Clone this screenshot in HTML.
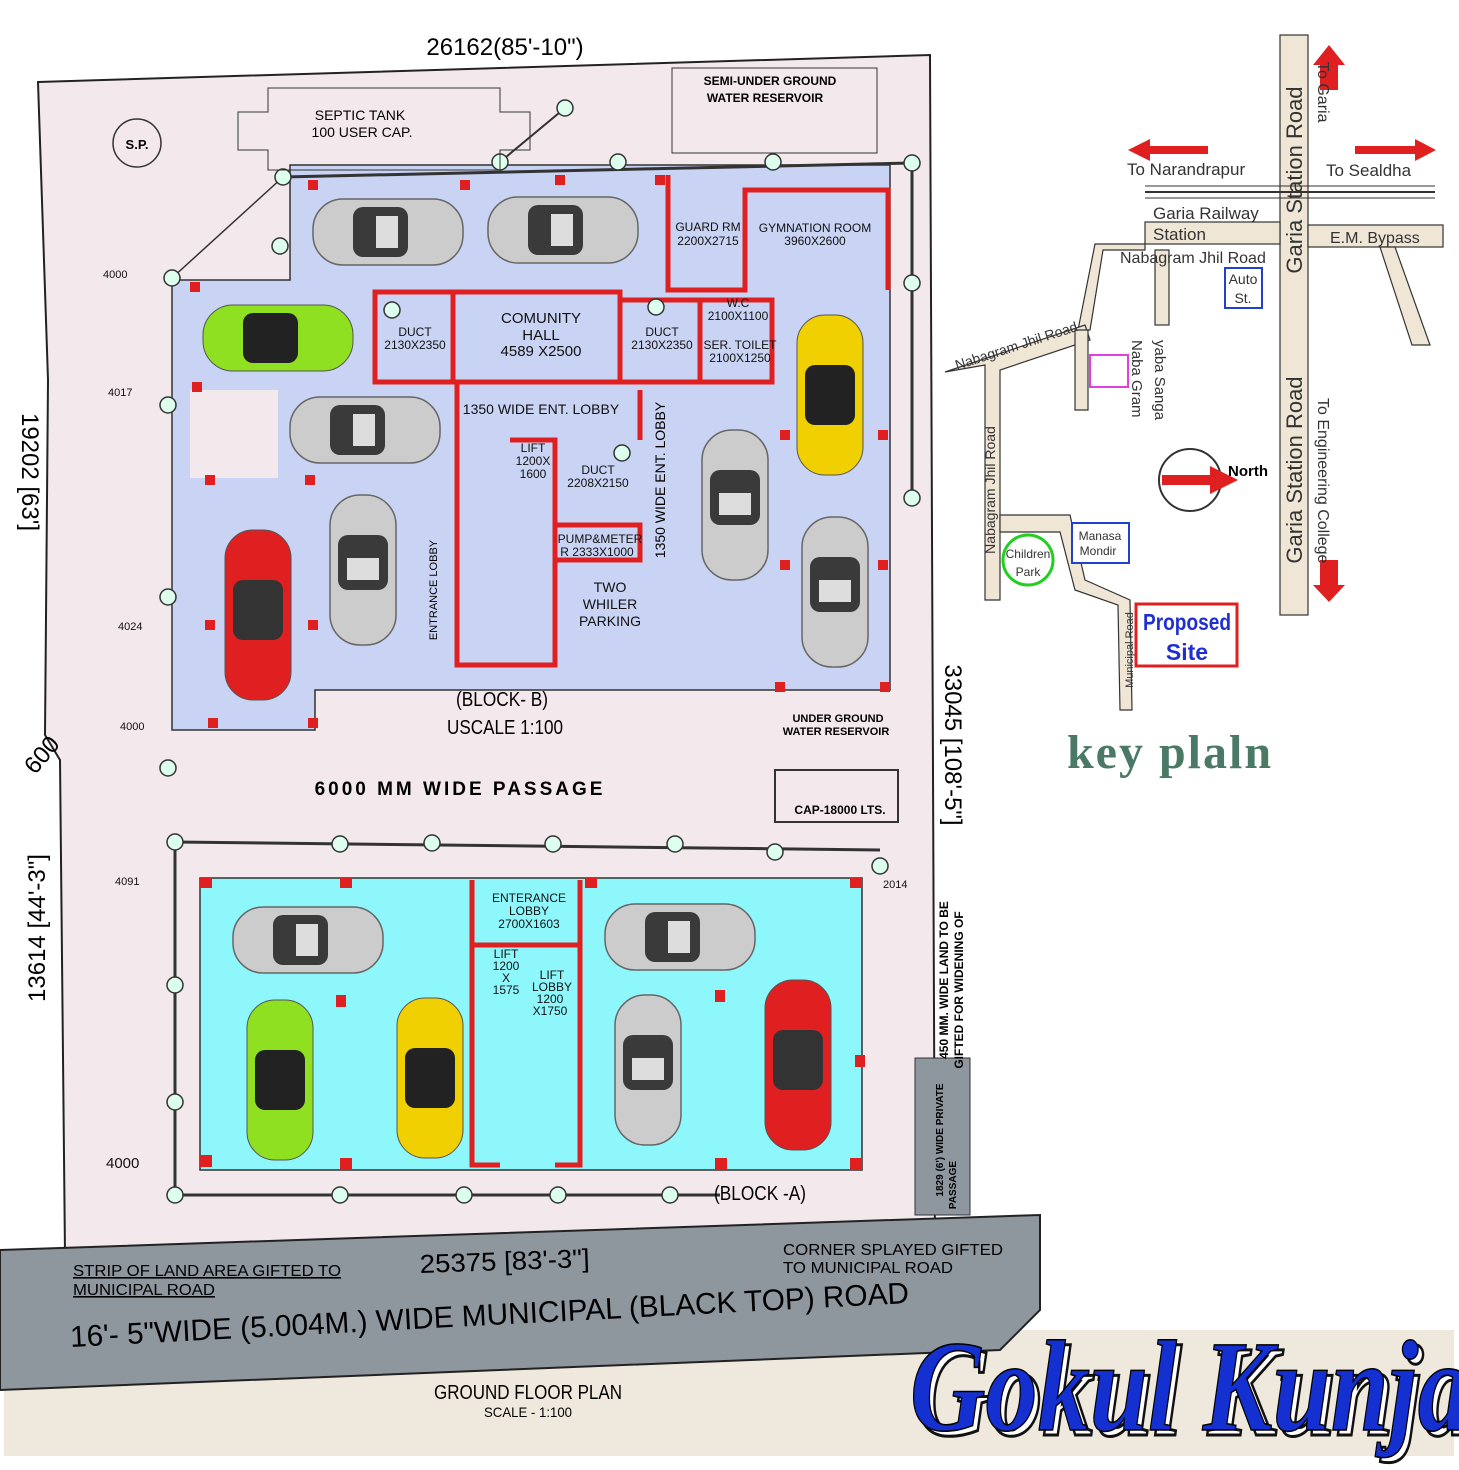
<!DOCTYPE html>
<html><head><meta charset="utf-8"><style>
body{margin:0;background:#fff;}
svg{display:block;font-family:"Liberation Sans",sans-serif;}
</style></head><body>
<svg width="1459" height="1470" viewBox="0 0 1459 1470" xmlns="http://www.w3.org/2000/svg">
<defs>
<g id="car"><rect x="-75" y="-33" width="150" height="66" rx="30" fill="#ccc" stroke="#666" stroke-width="1.5"/><rect x="-35" y="-25" width="55" height="50" rx="10" fill="#3a3a3a"/><rect x="-12" y="-16" width="22" height="32" fill="#ddd"/></g>
<g id="carv"><rect x="-33" y="-75" width="66" height="150" rx="30" fill="#ccc" stroke="#666" stroke-width="1.5"/><rect x="-25" y="-35" width="50" height="55" rx="10" fill="#3a3a3a"/><rect x="-16" y="-12" width="32" height="22" fill="#ddd"/></g>
</defs>
<rect width="1459" height="1470" fill="#fff"/>
<rect x="4" y="1330" width="1450" height="126" fill="#efe8dc"/>
<polygon points="38,82 930,55 935,1250 65,1255 60,760 45,735 48,380" fill="#f3e8ec" stroke="#222" stroke-width="2"/>
<polygon points="290,165 890,165 890,690 775,690 775,690 315,690 315,730 172,730 172,280 290,280" fill="#c9d3f3" stroke="#333" stroke-width="1.5"/>
<rect x="190" y="390" width="88" height="88" fill="#f3e8ec"/>
<rect x="200" y="878" width="662" height="292" fill="#8ef7fb" stroke="#333" stroke-width="1.5"/>
<polygon points="0,1250 1040,1215 1040,1310 1000,1350 0,1390" fill="#8e969e" stroke="#222" stroke-width="2"/>
<polygon points="915,1058 970,1058 970,1215 915,1215" fill="#8e969e" stroke="#333"/>
<g stroke="#e02020" stroke-width="5" fill="none">
<rect x="375" y="292" width="78" height="90"/>
<polyline points="453,292 620,292 620,382 375,382"/>
<polyline points="620,300 700,300 700,382 620,382"/>
<polyline points="668,175 668,290 745,290 745,190 888,190 888,290"/>
<polyline points="700,300 772,300 772,382 700,382"/>
<polyline points="457,382 457,665 555,665 555,440 510,440"/>
<polyline points="555,525 640,525 640,560 555,560"/>
<line x1="640" y1="440" x2="640" y2="390"/>
<polyline points="472,880 472,1165 500,1165"/>
<polyline points="580,880 580,1165 555,1165"/>
<line x1="472" y1="945" x2="580" y2="945"/>
</g>
<g fill="#e02020">
<rect x="308" y="180" width="10" height="10"/><rect x="460" y="180" width="10" height="10"/><rect x="555" y="175" width="10" height="10"/><rect x="655" y="175" width="10" height="10"/>
<rect x="190" y="282" width="10" height="10"/><rect x="192" y="382" width="10" height="10"/><rect x="205" y="475" width="10" height="10"/><rect x="305" y="475" width="10" height="10"/>
<rect x="205" y="620" width="10" height="10"/><rect x="308" y="620" width="10" height="10"/><rect x="208" y="718" width="10" height="10"/><rect x="308" y="718" width="10" height="10"/>
<rect x="780" y="430" width="10" height="10"/><rect x="878" y="430" width="10" height="10"/><rect x="780" y="560" width="10" height="10"/><rect x="878" y="560" width="10" height="10"/><rect x="775" y="682" width="10" height="10"/><rect x="880" y="682" width="10" height="10"/>
<rect x="200" y="878" width="12" height="10"/><rect x="340" y="878" width="12" height="10"/><rect x="585" y="878" width="12" height="10"/><rect x="850" y="878" width="12" height="10"/>
<rect x="336" y="995" width="10" height="12"/><rect x="715" y="990" width="10" height="12"/><rect x="855" y="1055" width="10" height="12"/><rect x="200" y="1155" width="12" height="12"/><rect x="340" y="1158" width="12" height="12"/><rect x="715" y="1158" width="12" height="12"/><rect x="850" y="1158" width="12" height="12"/>
</g>
<use href="#car" transform="translate(388,232)"/>
<use href="#car" transform="translate(563,230)"/>
<g transform="translate(278,338)"><rect x="-75" y="-33" width="150" height="66" rx="30" fill="#8fe020" stroke="#555"/><rect x="-35" y="-25" width="55" height="50" rx="10" fill="#222"/></g>
<use href="#car" transform="translate(365,430)"/>
<g transform="translate(258,615)"><rect x="-33" y="-85" width="66" height="170" rx="28" fill="#e02020" stroke="#555"/><rect x="-25" y="-35" width="50" height="60" rx="10" fill="#333"/></g>
<use href="#carv" transform="translate(363,570)"/>
<g transform="translate(830,395)"><rect x="-33" y="-80" width="66" height="160" rx="28" fill="#f0d000" stroke="#555"/><rect x="-25" y="-30" width="50" height="60" rx="10" fill="#222"/></g>
<use href="#carv" transform="translate(735,505)"/>
<use href="#carv" transform="translate(835,592)"/>
<use href="#car" transform="translate(308,940)"/>
<use href="#car" transform="translate(680,937)"/>
<g transform="translate(280,1080)"><rect x="-33" y="-80" width="66" height="160" rx="28" fill="#8fe020" stroke="#555"/><rect x="-25" y="-30" width="50" height="60" rx="10" fill="#222"/></g>
<g transform="translate(430,1078)"><rect x="-33" y="-80" width="66" height="160" rx="28" fill="#f0d000" stroke="#555"/><rect x="-25" y="-30" width="50" height="60" rx="10" fill="#222"/></g>
<use href="#carv" transform="translate(648,1070)"/>
<g transform="translate(798,1065)"><rect x="-33" y="-85" width="66" height="170" rx="28" fill="#e02020" stroke="#555"/><rect x="-25" y="-35" width="50" height="60" rx="10" fill="#333"/></g>
<g stroke="#333" stroke-width="3" fill="none">
<polyline points="283,177 912,163"/><polyline points="175,842 880,850"/><polyline points="175,1195 720,1195"/>
<line x1="175" y1="842" x2="175" y2="1195"/><line x1="912" y1="163" x2="912" y2="500"/>
<line x1="500" y1="162" x2="565" y2="108" stroke-width="2"/><line x1="283" y1="177" x2="172" y2="278" stroke-width="1.5"/>
</g>
<g fill="#dfe" stroke="#333" stroke-width="1.5">
<circle cx="565" cy="108" r="8"/><circle cx="500" cy="162" r="8"/><circle cx="618" cy="162" r="8"/><circle cx="773" cy="162" r="8"/><circle cx="912" cy="163" r="8"/><circle cx="283" cy="177" r="8"/><circle cx="280" cy="246" r="8"/><circle cx="172" cy="278" r="8"/><circle cx="392" cy="310" r="8"/><circle cx="656" cy="307" r="8"/><circle cx="912" cy="283" r="8"/><circle cx="168" cy="405" r="8"/><circle cx="622" cy="453" r="8"/><circle cx="912" cy="498" r="8"/><circle cx="168" cy="597" r="8"/><circle cx="168" cy="768" r="8"/>
<circle cx="175" cy="842" r="8"/><circle cx="340" cy="844" r="8"/><circle cx="432" cy="843" r="8"/><circle cx="553" cy="844" r="8"/><circle cx="675" cy="844" r="8"/><circle cx="775" cy="852" r="8"/><circle cx="880" cy="866" r="8"/>
<circle cx="175" cy="985" r="8"/><circle cx="175" cy="1102" r="8"/><circle cx="175" cy="1195" r="8"/><circle cx="340" cy="1195" r="8"/><circle cx="464" cy="1195" r="8"/><circle cx="558" cy="1195" r="8"/><circle cx="670" cy="1195" r="8"/>
</g>
<circle cx="137" cy="143" r="24" fill="none" stroke="#333" stroke-width="1.5"/>
<text x="137" y="149" font-size="13" font-weight="bold" text-anchor="middle">S.P.</text>
<polygon points="238,112 268,112 268,88 500,88 500,112 530,112 530,150 500,150 500,170 268,170 268,150 238,150" fill="none" stroke="#333"/>
<text x="360" y="120" font-size="14" text-anchor="middle">SEPTIC TANK</text>
<text x="362" y="137" font-size="14" text-anchor="middle">100 USER CAP.</text>
<rect x="672" y="68" width="205" height="85" fill="none" stroke="#333"/>
<text x="770" y="85" font-size="12" font-weight="bold" text-anchor="middle">SEMI-UNDER GROUND</text>
<text x="765" y="102" font-size="12" font-weight="bold" text-anchor="middle">WATER RESERVOIR</text>
<rect x="775" y="770" width="123" height="52" fill="none" stroke="#333" stroke-width="2"/>
<text x="838" y="722" font-size="11" font-weight="bold" text-anchor="middle">UNDER GROUND</text>
<text x="836" y="735" font-size="11" font-weight="bold" text-anchor="middle">WATER RESERVOIR</text>
<text x="840" y="814" font-size="12" font-weight="bold" text-anchor="middle">CAP-18000 LTS.</text>
<g font-size="12" text-anchor="middle" fill="#111">
<text x="708" y="231">GUARD RM</text><text x="708" y="245">2200X2715</text>
<text x="815" y="232">GYMNATION ROOM</text><text x="815" y="245">3960X2600</text>
<text x="415" y="336">DUCT</text><text x="415" y="349">2130X2350</text>
<text x="541" y="323" font-size="15">COMUNITY</text><text x="541" y="340" font-size="15">HALL</text><text x="541" y="356" font-size="15">4589 X2500</text>
<text x="662" y="336">DUCT</text><text x="662" y="349">2130X2350</text>
<text x="738" y="307">W.C</text><text x="738" y="320">2100X1100</text>
<text x="740" y="349">SER. TOILET</text><text x="740" y="362">2100X1250</text>
<text x="541" y="414" font-size="14">1350 WIDE ENT. LOBBY</text>
<text x="533" y="452">LIFT</text><text x="533" y="465">1200X</text><text x="533" y="478">1600</text>
<text x="598" y="474">DUCT</text><text x="598" y="487">2208X2150</text>
<text x="600" y="543">PUMP&amp;METER</text><text x="597" y="556">R 2333X1000</text>
<text x="610" y="592" font-size="14">TWO</text><text x="610" y="609" font-size="14">WHILER</text><text x="610" y="626" font-size="14">PARKING</text>
<text x="529" y="902">ENTERANCE</text><text x="529" y="915">LOBBY</text><text x="529" y="928">2700X1603</text>
<text x="506" y="958">LIFT</text><text x="506" y="970">1200</text><text x="506" y="982">X</text><text x="506" y="994">1575</text>
<text x="552" y="979">LIFT</text><text x="552" y="991">LOBBY</text><text x="550" y="1003">1200</text><text x="550" y="1015">X1750</text>
</g>
<text x="437" y="590" font-size="11" transform="rotate(-90 437 590)" text-anchor="middle">ENTRANCE LOBBY</text>
<text x="665" y="480" font-size="14" transform="rotate(-90 665 480)" text-anchor="middle">1350 WIDE ENT. LOBBY</text>
<text x="502" y="706" font-size="20" text-anchor="middle" textLength="92" lengthAdjust="spacingAndGlyphs">(BLOCK- B)</text>
<text x="505" y="734" font-size="20" text-anchor="middle" textLength="116" lengthAdjust="spacingAndGlyphs">USCALE 1:100</text>
<text x="460" y="795" font-size="19" font-weight="bold" letter-spacing="3" text-anchor="middle">6000 MM WIDE PASSAGE</text>
<text x="760" y="1200" font-size="20" text-anchor="middle" textLength="92" lengthAdjust="spacingAndGlyphs">(BLOCK -A)</text>
<text x="505" y="55" font-size="24" text-anchor="middle">26162(85'-10")</text>
<text x="22" y="472" font-size="24" transform="rotate(90 22 472)" text-anchor="middle">19202 [63']</text>
<text x="45" y="928" font-size="24" transform="rotate(-90 45 928)" text-anchor="middle">13614 [44'-3"]</text>
<text x="945" y="745" font-size="24" transform="rotate(90 945 745)" text-anchor="middle">33045 [108'-5"]</text>
<text x="48" y="760" font-size="24" transform="rotate(-50 48 760)" text-anchor="middle">600</text>
<g font-size="11" fill="#111"><text x="103" y="278">4000</text><text x="108" y="396">4017</text><text x="118" y="630">4024</text><text x="120" y="730">4000</text><text x="115" y="885">4091</text><text x="106" y="1168" font-size="15">4000</text><text x="883" y="888">2014</text></g>
<text x="505" y="1270" font-size="26" text-anchor="middle" transform="rotate(-2 505 1270)" textLength="170" lengthAdjust="spacingAndGlyphs">25375 [83'-3"]</text>
<text x="73" y="1276" font-size="16" text-decoration="underline" textLength="268" lengthAdjust="spacingAndGlyphs">STRIP OF LAND AREA GIFTED TO</text>
<text x="73" y="1295" font-size="16" text-decoration="underline" textLength="142" lengthAdjust="spacingAndGlyphs">MUNICIPAL ROAD</text>
<text x="783" y="1255" font-size="16" textLength="220" lengthAdjust="spacingAndGlyphs">CORNER SPLAYED GIFTED</text>
<text x="783" y="1273" font-size="16" textLength="170" lengthAdjust="spacingAndGlyphs">TO MUNICIPAL ROAD</text>
<text x="490" y="1325" font-size="30" text-anchor="middle" transform="rotate(-3 490 1325)" textLength="840" lengthAdjust="spacingAndGlyphs">16'- 5"WIDE    (5.004M.)  WIDE MUNICIPAL (BLACK  TOP) ROAD</text>
<text x="528" y="1399" font-size="20" text-anchor="middle" textLength="188" lengthAdjust="spacingAndGlyphs">GROUND FLOOR PLAN</text>
<text x="528" y="1417" font-size="14" text-anchor="middle" textLength="88" lengthAdjust="spacingAndGlyphs">SCALE - 1:100</text>
<text x="948" y="980" font-size="12" font-weight="bold" transform="rotate(-90 948 980)" text-anchor="middle">450 MM. WIDE  LAND TO BE</text>
<text x="963" y="990" font-size="12" font-weight="bold" transform="rotate(-90 963 990)" text-anchor="middle">GIFTED  FOR WIDENING OF</text>
<text x="943" y="1140" font-size="10" font-weight="bold" transform="rotate(-90 943 1140)" text-anchor="middle">1829 (6') WIDE PRIVATE</text>
<text x="956" y="1185" font-size="10" font-weight="bold" transform="rotate(-90 956 1185)" text-anchor="middle">PASSAGE</text>
<g fill="#efe6d6" stroke="#333" stroke-width="1.2">
<rect x="1280" y="35" width="28" height="580"/>
<rect x="1145" y="222" width="135" height="22"/>
<rect x="1308" y="225" width="135" height="22"/>
<polygon points="1095,244 1145,244 1145,250 1103,250 1090,330 1078,330"/>
<rect x="1155" y="250" width="14" height="75"/>
<polygon points="945,372 1085,325 1090,340 1000,370 1000,600 985,600 985,365"/>
<polygon points="1075,330 1088,330 1088,410 1075,410"/>
<polygon points="1000,515 1070,515 1085,580 1130,600 1132,710 1120,710 1118,605 1075,590 1060,532 1000,532"/>
<polygon points="1380,247 1395,247 1430,345 1412,345"/>
</g>
<line x1="1145" y1="192" x2="1435" y2="192" stroke="#333" stroke-width="2"/>
<line x1="1145" y1="186" x2="1435" y2="186" stroke="#333" stroke-width="1"/>
<line x1="1145" y1="198" x2="1435" y2="198" stroke="#333" stroke-width="1"/>
<g fill="#e02020"><polygon points="1320,90 1338,90 1338,65 1345,65 1329,45 1313,65 1320,65"/><polygon points="1208,146 1150,146 1150,139 1128,150 1150,161 1150,154 1208,154"/><polygon points="1355,146 1415,146 1415,139 1436,150 1415,161 1415,154 1355,154"/><polygon points="1320,560 1338,560 1338,585 1345,585 1329,602 1313,585 1320,585"/></g>
<g font-size="17" fill="#333">
<text x="1127" y="175">To Narandrapur</text><text x="1326" y="176">To Sealdha</text>
<text x="1153" y="219">Garia Railway</text><text x="1153" y="240">Station</text>
<text x="1120" y="263" font-size="16">Nabagram Jhil Road</text>
<text x="1330" y="243" font-size="16">E.M. Bypass</text>
</g>
<text x="1318" y="62" font-size="16" transform="rotate(90 1318 62)" fill="#333">To Garia</text>
<text x="1302" y="180" font-size="22" transform="rotate(-90 1302 180)" text-anchor="middle" fill="#333">Garia Station Road</text>
<text x="1302" y="470" font-size="22" transform="rotate(-90 1302 470)" text-anchor="middle" fill="#333">Garia Station Road</text>
<text x="1318" y="398" font-size="16" transform="rotate(90 1318 398)" fill="#333">To Engineering College</text>
<text x="957" y="370" font-size="14" transform="rotate(-18 957 370)" fill="#333">Nabagram Jhil Road</text>
<text x="995" y="490" font-size="14" transform="rotate(-90 995 490)" text-anchor="middle" fill="#333">Nabagram Jhil Road</text>
<text x="1132" y="340" font-size="15" transform="rotate(90 1132 340)" fill="#333">Naba Gram</text>
<text x="1155" y="340" font-size="15" transform="rotate(90 1155 340)" fill="#333">yaba Sanga</text>
<text x="1133" y="650" font-size="11" transform="rotate(-90 1133 650)" text-anchor="middle" fill="#333">Municipal Road</text>
<rect x="1225" y="268" width="37" height="40" fill="none" stroke="#2040d0" stroke-width="2"/>
<text x="1243" y="284" font-size="14" text-anchor="middle" fill="#333">Auto</text><text x="1243" y="303" font-size="14" text-anchor="middle" fill="#333">St.</text>
<rect x="1090" y="355" width="38" height="32" fill="none" stroke="#e040e0" stroke-width="2"/>
<circle cx="1190" cy="480" r="31" fill="#fff" stroke="#333" stroke-width="2"/>
<polygon points="1162,475 1210,475 1210,466 1238,480 1210,494 1210,485 1162,485" fill="#e02020"/>
<text x="1228" y="476" font-size="15" font-weight="bold">North</text>
<circle cx="1028" cy="560" r="25" fill="none" stroke="#20d020" stroke-width="3"/>
<text x="1028" y="558" font-size="12" text-anchor="middle" fill="#333">Children</text><text x="1028" y="576" font-size="12" text-anchor="middle" fill="#333">Park</text>
<rect x="1072" y="523" width="57" height="40" fill="#fff" stroke="#2040d0" stroke-width="2"/>
<text x="1100" y="540" font-size="12" text-anchor="middle" fill="#333">Manasa</text><text x="1098" y="555" font-size="12" text-anchor="middle" fill="#333">Mondir</text>
<rect x="1136" y="604" width="101" height="62" fill="#fff" stroke="#e02020" stroke-width="3"/>
<text x="1187" y="630" font-size="23" font-weight="bold" text-anchor="middle" fill="#2030d0" textLength="88" lengthAdjust="spacingAndGlyphs">Proposed</text>
<text x="1187" y="660" font-size="23" font-weight="bold" text-anchor="middle" fill="#2030d0">Site</text>
<text x="1170" y="768" font-size="48" font-weight="bold" text-anchor="middle" fill="#4a7a66" font-family="Liberation Serif,serif" letter-spacing="2">key plaln</text>
<text x="910" y="1430" font-size="130" font-style="italic" font-weight="bold" fill="#fff" stroke="#111" stroke-width="3" font-family="Liberation Serif,serif" transform="translate(5,5)" textLength="560" lengthAdjust="spacingAndGlyphs">Gokul Kunja</text>
<text x="910" y="1430" font-size="130" font-style="italic" font-weight="bold" fill="#1530d0" stroke="#000" stroke-width="1.5" font-family="Liberation Serif,serif" textLength="560" lengthAdjust="spacingAndGlyphs">Gokul Kunja</text>
</svg>
</body></html>
